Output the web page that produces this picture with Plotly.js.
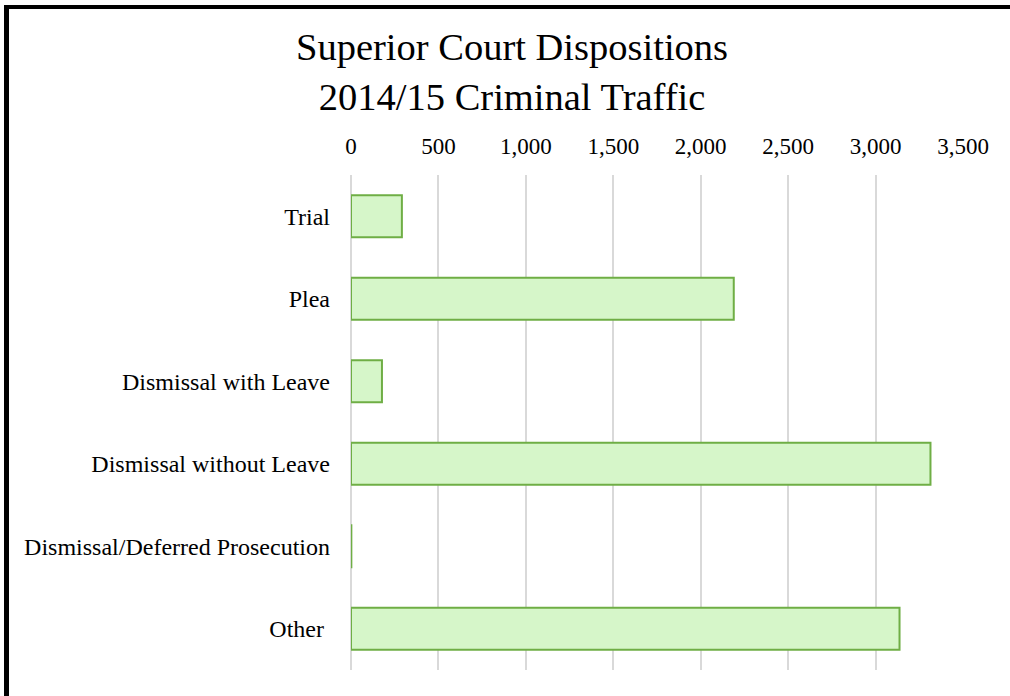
<!DOCTYPE html>
<html><head><meta charset="utf-8">
<script src="https://cdn.plot.ly/plotly-3.0.1.min.js"></script>
<style>
html,body{margin:0;padding:0;background:#fff;}
#chart{width:1010px;height:696px;position:absolute;left:0;top:0;}
.bl{position:absolute;left:4px;top:5px;width:5px;height:691px;background:#000;}
.bt{position:absolute;left:4px;top:5px;width:1006px;height:4px;background:#000;}
</style></head>
<body>
<div id="chart"></div>
<div class="bl"></div><div class="bt"></div>
<script>
const categories = ["Trial", "Plea", "Dismissal with Leave", "Dismissal without Leave", "Dismissal/Deferred Prosecution", "Other "];
const values = [291, 2189, 177, 3314, 2, 3137];
const tickVals = [0, 500, 1000, 1500, 2000, 2500, 3000, 3500];
const tickText = ["0", "500", "1,000", "1,500", "2,000", "2,500", "3,000", "3,500"];

const serif = "Liberation Serif, Times New Roman, serif";
Plotly.newPlot("chart", [{
  type: "bar",
  orientation: "h",
  y: categories,
  x: values,
  marker: {color: "#d6f6c9", line: {color: "#6fae45", width: 2}},
  hoverinfo: "x+y"
}], {
  width: 1010, height: 696,
  margin: {l: 351, r: 47, t: 175, b: 26},
  paper_bgcolor: "#fff", plot_bgcolor: "#fff",
  bargap: 0.49,
  showlegend: false,
  title: {
    text: "Superior Court Dispositions<br>2014/15 Criminal Traffic",
    font: {family: serif, size: 38.5, color: "#000"},
    x: 0.507, xanchor: "center", yref: "container", y: 0.914, yanchor: "top"
  },
  xaxis: {
    side: "top", range: [0, 3500], tickvals: tickVals, ticktext: tickText,
    showgrid: true, gridcolor: "#d9d9d9", gridwidth: 2,
    zeroline: true, zerolinecolor: "#d9d9d9", zerolinewidth: 2,
    showline: false, ticks: "", ticklabelstandoff: 15,
    tickfont: {family: serif, size: 23, color: "#000"}, fixedrange: true
  },
  yaxis: {
    autorange: "reversed", showgrid: false, zeroline: false, showline: false,
    ticks: "", ticklabelstandoff: 20,
    tickfont: {family: serif, size: 24, color: "#000"}, fixedrange: true
  }
}, {displayModeBar: false, staticPlot: true});
</script>
</body></html>
